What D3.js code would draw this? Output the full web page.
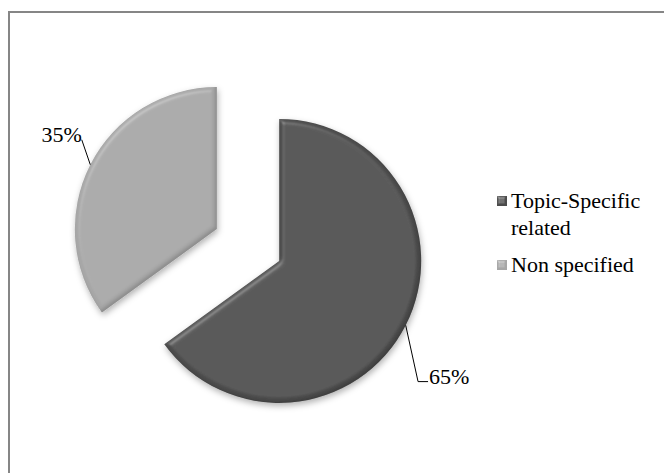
<!DOCTYPE html>
<html>
<head>
<meta charset="utf-8">
<script src="https://cdn.jsdelivr.net/npm/d3@7"></script>
<style>
  html, body { margin: 0; padding: 0; background: #fff; }
  svg { display: block; }
</style>
</head>
<body>
<svg id="chart" width="664" height="473"></svg>
<script>
// ---- data ----
const categories = ["Topic-Specific related", "Non specified"];
const values = [65, 35];
const valueLabels = ["65%", "35%"];
const legendLines = [["Topic-Specific", "related"], ["Non specified"]];
const colors = ["#4c4c4c", "#a6a6a6"];

// ---- layout ----
const W = 664, H = 473;
const cx = 248, cy = 245, radius = 142, explode = 35;
const fontSize = 22;
const FONT = '"Liberation Serif"';

const svg = d3.select("#chart");
const defs = svg.append("defs");

// bevel + shadow filter
const f = defs.append("filter").attr("id", "bevel")
  .attr("x", "-20%").attr("y", "-20%").attr("width", "140%").attr("height", "140%");
f.append("feGaussianBlur").attr("in", "SourceAlpha").attr("stdDeviation", 2.5).attr("result", "blur");
const spec = f.append("feSpecularLighting").attr("in", "blur").attr("surfaceScale", 4)
  .attr("specularConstant", 0.5).attr("specularExponent", 16)
  .attr("lighting-color", "#ffffff").attr("result", "spec");
spec.append("feDistantLight").attr("azimuth", 235).attr("elevation", 40);
f.append("feComposite").attr("in", "spec").attr("in2", "SourceAlpha").attr("operator", "in").attr("result", "specOut");
f.append("feComposite").attr("in", "SourceGraphic").attr("in2", "specOut")
  .attr("operator", "arithmetic").attr("k1", 0).attr("k2", 1).attr("k3", 0.3).attr("k4", 0).attr("result", "lit");
f.append("feOffset").attr("in", "SourceAlpha").attr("dx", -2).attr("dy", -2).attr("result", "off");
f.append("feGaussianBlur").attr("in", "off").attr("stdDeviation", 1.5).attr("result", "offb");
f.append("feComposite").attr("in", "SourceAlpha").attr("in2", "offb").attr("operator", "out").attr("result", "rim");
f.append("feFlood").attr("flood-color", "#000").attr("flood-opacity", 0.3).attr("result", "rimc");
f.append("feComposite").attr("in", "rimc").attr("in2", "rim").attr("operator", "in").attr("result", "rimShade");
f.append("feComposite").attr("in", "rimShade").attr("in2", "lit").attr("operator", "over").attr("result", "body");
f.append("feOffset").attr("in", "SourceAlpha").attr("dx", 1).attr("dy", 3).attr("result", "sOff");
f.append("feGaussianBlur").attr("in", "sOff").attr("stdDeviation", 3).attr("result", "sBlur");
f.append("feFlood").attr("flood-color", "#000").attr("flood-opacity", 0.3).attr("result", "sCol");
f.append("feComposite").attr("in", "sCol").attr("in2", "sBlur").attr("operator", "in").attr("result", "shadow");
const merge = f.append("feMerge");
merge.append("feMergeNode").attr("in", "shadow");
merge.append("feMergeNode").attr("in", "body");

const f2 = defs.append("filter").attr("id", "bevelSmall")
  .attr("x", "-30%").attr("y", "-30%").attr("width", "160%").attr("height", "160%");
f2.append("feGaussianBlur").attr("in", "SourceAlpha").attr("stdDeviation", 1).attr("result", "blur");
const spec2 = f2.append("feSpecularLighting").attr("in", "blur").attr("surfaceScale", 2)
  .attr("specularConstant", 0.6).attr("specularExponent", 12)
  .attr("lighting-color", "#ffffff").attr("result", "spec");
spec2.append("feDistantLight").attr("azimuth", 235).attr("elevation", 40);
f2.append("feComposite").attr("in", "spec").attr("in2", "SourceAlpha").attr("operator", "in").attr("result", "specOut");
f2.append("feComposite").attr("in", "SourceGraphic").attr("in2", "specOut")
  .attr("operator", "arithmetic").attr("k1", 0).attr("k2", 1).attr("k3", 0.5).attr("k4", 0);

// frame
svg.append("rect").attr("x", 9).attr("y", 12).attr("width", W + 20).attr("height", H + 20)
  .attr("fill", "none").attr("stroke", "#868686").attr("stroke-width", 2);

// pie
const data = categories.map((c, i) => ({ cat: c, value: values[i], label: valueLabels[i], color: colors[i] }));
const pie = d3.pie().sort(null).value(d => d.value).startAngle(0).endAngle(2 * Math.PI);
const arcs = pie(data);
const arc = d3.arc().innerRadius(0).outerRadius(radius);

const g = svg.append("g").attr("transform", `translate(${cx},${cy})`);

arcs.forEach(a => {
  const mid = (a.startAngle + a.endAngle) / 2;
  a.mid = mid;
  a.ox = Math.sin(mid) * explode;
  a.oy = -Math.cos(mid) * explode;
});

g.selectAll("path.slice").data(arcs).enter().append("path")
  .attr("class", "slice")
  .attr("d", arc)
  .attr("transform", d => `translate(${d.ox},${d.oy})`)
  .attr("fill", d => d.data.color)
  .attr("filter", "url(#bevel)");

const leaderCfg = [
  { dAngle: 14 * Math.PI / 180, r2: 184, tail: 10, anchor: "start" },
  { dAngle: 6.5 * Math.PI / 180, r2: 162, tail: 0, anchor: "end" }
];
arcs.forEach((a, i) => {
  const c = leaderCfg[i];
  const sx = a.ox + Math.sin(a.mid) * radius, sy = a.oy - Math.cos(a.mid) * radius;
  const ang = a.mid + c.dAngle;
  const ex = a.ox + Math.sin(ang) * c.r2, ey = a.oy - Math.cos(ang) * c.r2;
  const tx = ex + c.tail;
  g.append("path")
    .attr("d", `M${sx},${sy}L${ex},${ey}L${tx},${ey}`)
    .attr("fill", "none").attr("stroke", "#000").attr("stroke-width", 1);
  g.append("text")
    .attr("x", c.anchor === "start" ? tx + 1 : tx)
    .attr("y", ey + 2)
    .attr("text-anchor", c.anchor)
    .attr("font-size", fontSize)
    .style("font-family", FONT)
    .text(a.data.label);
});

const lg = svg.append("g").attr("transform", "translate(497,0)");
const entryY = [208, 272];
data.forEach((d, i) => {
  lg.append("rect").attr("x", 0).attr("y", entryY[i] - 12).attr("width", 10).attr("height", 10)
    .attr("fill", d.color).attr("filter", "url(#bevelSmall)");
  const t = lg.append("text").attr("x", 14).attr("y", entryY[i])
    .attr("font-size", fontSize).style("font-family", FONT);
  legendLines[i].forEach((ln, j) => {
    t.append("tspan").attr("x", 14).attr("dy", j === 0 ? 0 : 27).text(ln);
  });
});
</script>
</body>
</html>
